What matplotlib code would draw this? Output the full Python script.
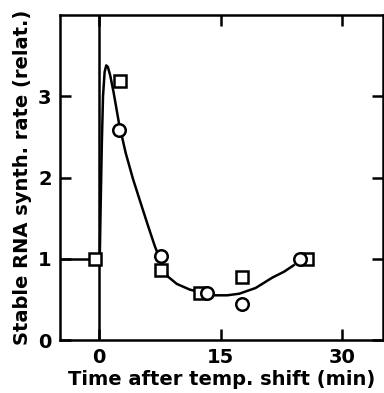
import matplotlib.pyplot as plt
import matplotlib

matplotlib.rcParams['font.family'] = ['DejaVu Sans']

# data
sq_x = [-0.5, 2.6, 7.6, 12.4, 17.6, 25.6]
sq_y = [1.0, 3.19, 0.86, 0.58, 0.77, 1.0]

ci_x = [2.5, 7.6, 13.3, 17.6, 24.8]
ci_y = [2.59, 1.04, 0.58, 0.44, 1.0]

# hand drawn fit curve
curve_x = [0.1, 0.2, 0.35, 0.5, 0.7, 0.9, 1.1, 1.4, 1.8, 2.5, 3.3, 4.2, 5.0, 6.0, 6.9,
           7.8, 8.5, 9.6, 11.2, 12.8, 14.3, 15.8, 17.3, 19.3, 21.4, 22.8, 24.0]
curve_y = [1.0, 1.6, 2.4, 3.0, 3.3, 3.38, 3.36, 3.25, 3.05, 2.65, 2.3, 1.98, 1.73, 1.42, 1.15,
           0.93, 0.78, 0.69, 0.62, 0.58, 0.55, 0.55, 0.57, 0.64, 0.77, 0.84, 0.92]

XTICKS = [0, 15, 30]
YTICKS = [0, 1, 2, 3]

fig = plt.figure(figsize=(3.84, 3.93), dpi=100)
ax = fig.add_axes([60 / 384, 53 / 393, 323 / 384, 325 / 393])

ax.axvline(0, color="black", lw=1.8, zorder=2)
ax.plot([-5, 0], [1, 1], color="black", lw=1.8, zorder=2)
ax.plot(curve_x, curve_y, color="black", lw=1.8, zorder=2)

ax.plot(sq_x, sq_y, "s", ms=8, mfc="white", mec="black", mew=1.8, zorder=3)
ax.plot(ci_x, ci_y, "o", ms=9, mfc="white", mec="black", mew=1.8, zorder=3)

ax.set_xlim(-4.8, 35)
ax.set_ylim(0, 4.0)
ax.set_xticks(XTICKS)
ax.set_yticks(YTICKS)
ax.tick_params(direction="in", length=8, width=1.8, labelsize=14,
               top=True, right=True, pad=6)
for lab in ax.get_xticklabels() + ax.get_yticklabels():
    lab.set_fontweight("bold")
for s in ax.spines.values():
    s.set_linewidth(1.8)

ax.set_xlabel("Time after temp. shift (min)", fontsize=14, fontweight="bold", labelpad=2)
ax.set_ylabel("Stable RNA synth. rate (relat.)", fontsize=14, fontweight="bold", labelpad=4)

plt.savefig("out.png", dpi=100)
